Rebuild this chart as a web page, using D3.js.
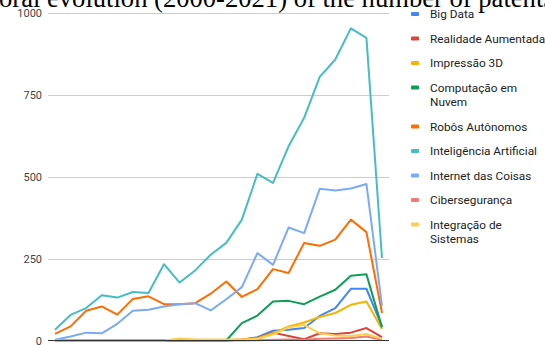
<!DOCTYPE html>
<html>
<head>
<meta charset="utf-8">
<script src="https://cdn.jsdelivr.net/npm/d3@7"></script>
<style>
  body { margin: 0; background: #fff; overflow: hidden; }
  svg { display: block; }
  .tick-label { font-family: Roboto, Arial, sans-serif; font-size: 11px; fill: #444; }
  .legend-text { font-family: Roboto, Arial, sans-serif; font-size: 11.8px; fill: #222; }
  .title { font-family: "Liberation Serif", "Times New Roman", serif; font-size: 26.6px; fill: #000; }
</style>
</head>
<body>
<svg id="chart" width="545" height="345"></svg>
<script>
// data
var years = d3.range(2000, 2022);
var yTicks = [0, 250, 500, 750, 1000];
var bigData      = [0,0,0,0,0,0,0,0,0,0,0,0,2,10,30,33,38,75,99,158,158,43];
var realidade    = [0,0,0,0,0,0,0,0,0,0,0,0,3,8,24,14,4,22,20,24,38,10];
var impressao3d  = [0,0,0,1,1,1,1,1,2,2,2,2,2,7,22,43,55,72,84,109,119,35];
var computacao   = [0,0,0,0,0,0,0,0,0,0,0,0,53,76,119,121,111,134,155,198,202,40];
var robos        = [20,43,91,104,79,127,135,111,111,114,143,180,133,157,218,206,298,289,308,369,331,84];
var ia           = [33,78,99,138,131,148,145,233,177,214,262,298,369,509,481,593,680,805,858,953,924,252];
var iot          = [2,12,24,22,51,91,94,104,111,114,92,126,163,267,231,345,328,463,458,464,478,106];
var ciber        = [0,0,0,0,0,0,0,0,0,0,0,0,0,1,2,3,2,5,6,8,12,2];
var integracao   = [0,0,0,0,0,0,0,0,6,3,2,2,3,5,18,40,48,22,15,14,20,5];

var seriesNames = ["Big Data", "Realidade Aumentada", "Impressão 3D", "Computação em\nNuvem",
  "Robôs Autônomos", "Inteligência Artificial", "Internet das Coisas", "Cibersegurança",
  "Integração de\nSistemas"];
var seriesValues = [bigData, realidade, impressao3d, computacao, robos, ia, iot, ciber, integracao];
var colors = ["#4285f4", "#db4437", "#f4b400", "#0f9d58", "#ff6d01", "#46bdc6", "#7baaf7", "#f07b72", "#fcd04f"];

var svg = d3.select("#chart");

var x = d3.scalePoint().domain(years).range([55, 382]);
var y = d3.scaleLinear().domain([0, 1000]).range([340.5, 13]);

// title, partly cut off at top-left like the source
var titleStart = "Temp";
var tmp = svg.append("text").attr("class", "title").text(titleStart);
var pre = tmp.node().getComputedTextLength();
tmp.remove();
svg.append("text")
  .attr("class", "title")
  .attr("x", -pre - 1)
  .attr("y", 7)
  .text("Temporal evolution (2000-2021) of the number of patents");

// gridlines
svg.append("g")
  .selectAll("line")
  .data(yTicks.filter(function (d) { return d > 0; }))
  .enter()
  .append("line")
  .attr("x1", 48).attr("x2", 389)
  .attr("y1", function (d) { return Math.round(y(d)) + 0.5; })
  .attr("y2", function (d) { return Math.round(y(d)) + 0.5; })
  .attr("stroke", "#cccccc")
  .attr("stroke-width", 1);

svg.append("g")
  .selectAll("text")
  .data(yTicks)
  .enter()
  .append("text")
  .attr("class", "tick-label")
  .attr("x", 42)
  .attr("y", function (d) { return y(d) + 4; })
  .attr("text-anchor", "end")
  .text(function (d) { return d; });

var line = d3.line()
  .x(function (d, i) { return x(years[i]); })
  .y(function (d) { return y(d); });

svg.append("g")
  .selectAll("path")
  .data(seriesValues)
  .enter()
  .append("path")
  .attr("d", line)
  .attr("fill", "none")
  .attr("stroke", function (d, i) { return colors[i]; })
  .attr("stroke-width", 2)
  .attr("stroke-linejoin", "round");

// baseline
svg.append("line")
  .attr("x1", 48).attr("x2", 389)
  .attr("y1", 340.5).attr("y2", 340.5)
  .attr("stroke", "#333")
  .attr("stroke-width", 1);

// legend
var legendY = [14, 38.5, 63, 87.5, 126.5, 151, 175.5, 200, 224.5];
var legend = svg.append("g")
  .selectAll("g")
  .data(seriesNames)
  .enter()
  .append("g")
  .attr("transform", function (d, i) { return "translate(" + [411, legendY[i]] + ")"; });

legend.append("rect")
  .attr("x", 0).attr("y", -2)
  .attr("width", 8).attr("height", 4)
  .attr("rx", 1)
  .style("fill", function (d, i) { return colors[i]; });

legend.append("text")
  .attr("class", "legend-text")
  .attr("x", 19)
  .attr("y", 4)
  .selectAll("tspan")
  .data(function (d) { return d.split("\n"); })
  .enter()
  .append("tspan")
  .attr("x", 19)
  .attr("dy", function (d, i) { return i === 0 ? 0 : 14.5; })
  .text(function (d) { return d; });
</script>
</body>
</html>
